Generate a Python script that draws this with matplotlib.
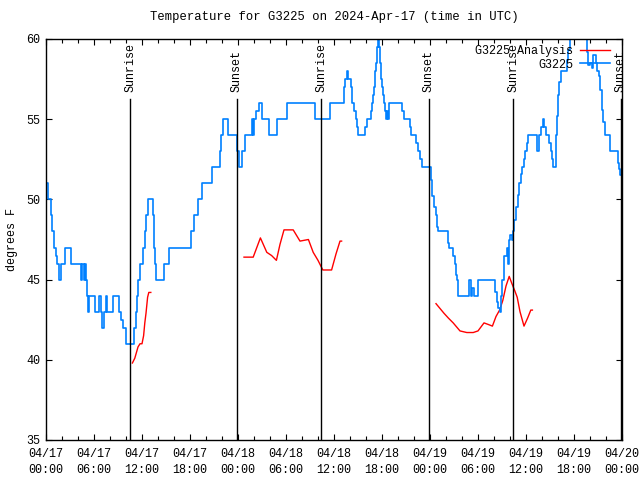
import matplotlib
matplotlib.use('Agg')
import matplotlib.pyplot as plt
from matplotlib.ticker import MultipleLocator

plt.rcParams['font.family'] = ['Liberation Mono', 'DejaVu Sans Mono']

# observed temperature: (hours since 04/17 00:00 UTC, deg F), step changes
obs = [(0.0, 51), (0.3, 50), (0.6, 49), (0.75, 48), (1.05, 47), (1.3, 46.5), (1.4, 46),
       (1.65, 45), (1.85, 46), (2.4, 47), (3.1, 46), (4.35, 45), (4.5, 46), (4.75, 45),
       (4.85, 46), (5.05, 45), (5.15, 44), (5.25, 43), (5.4, 44), (6.1, 43), (6.6, 44),
       (6.85, 43), (7.0, 42), (7.3, 43), (7.45, 44), (7.65, 43), (8.4, 44), (9.1, 43),
       (9.4, 42.5), (9.6, 42), (10.0, 41), (10.95, 42), (11.2, 43), (11.35, 44),
       (11.55, 45), (11.75, 46), (12.1, 47), (12.35, 48), (12.55, 49), (12.75, 50),
       (13.35, 49), (13.45, 47), (13.6, 46), (13.75, 45), (14.7, 46), (15.4, 47),
       (18.1, 48), (18.5, 49), (19.0, 50), (19.55, 51), (20.8, 52), (21.7, 53),
       (21.9, 54), (22.1, 55), (22.8, 54), (23.85, 53), (24.1, 52), (24.45, 53),
       (24.9, 54), (25.75, 55), (25.85, 54), (26.0, 55), (26.3, 55.5), (26.65, 56),
       (26.95, 55), (27.9, 54), (28.9, 55), (30.1, 56), (33.6, 55), (35.5, 56),
       (37.2, 57), (37.4, 57.5), (37.6, 58), (37.8, 57.5), (38.1, 57), (38.3, 56),
       (38.55, 55.5), (38.7, 55), (38.85, 54.5), (39.0, 54), (39.9, 54.5), (40.1, 55),
       (40.6, 55.5), (40.75, 56), (40.85, 56.5), (41.0, 57), (41.1, 58), (41.25, 58.5),
       (41.4, 59.5), (41.5, 60), (41.6, 59.5), (41.7, 58.5), (41.85, 57.5), (42.0, 57),
       (42.15, 56.5), (42.25, 56), (42.4, 55.5), (42.55, 55), (42.65, 55.5), (42.75, 55),
       (42.9, 56), (44.5, 55.5), (44.7, 55), (45.45, 54.5), (45.65, 54), (46.3, 53.5),
       (46.5, 53), (46.7, 52.5), (46.95, 52), (48.15, 51.2), (48.3, 50.2), (48.5, 49.5),
       (48.7, 49), (48.9, 48.3), (49.05, 48), (50.2, 47.3), (50.4, 47), (50.9, 46.5),
       (51.15, 46), (51.25, 45.3), (51.4, 45), (51.55, 44), (52.9, 45), (53.15, 44),
       (53.3, 44.5), (53.45, 44), (54.0, 45), (56.15, 44.2), (56.35, 43.6), (56.55, 43.2),
       (56.75, 43), (56.9, 44), (57.05, 45), (57.2, 45.8), (57.3, 46.5), (57.6, 47),
       (57.75, 46), (57.9, 47.5), (58.05, 47.8), (58.2, 47.5), (58.35, 48), (58.55, 48.7),
       (58.75, 49.5), (58.95, 50.3), (59.15, 51), (59.35, 51.6), (59.55, 52),
       (59.75, 52.5), (59.85, 53), (60.1, 53.5), (60.3, 54), (61.4, 53), (61.6, 54),
       (61.85, 54.5), (62.1, 55), (62.3, 54.5), (62.5, 54), (62.9, 53.5), (63.1, 53),
       (63.25, 52.5), (63.4, 52), (63.7, 54), (63.85, 55.2), (64.0, 56.5), (64.15, 57.3),
       (64.35, 58), (65.1, 58.7), (65.3, 59.3), (65.45, 60), (65.6, 61), (67.4, 60),
       (67.6, 59.2), (67.8, 58.4), (68.0, 58.5), (68.2, 58.2), (68.4, 59), (68.75, 58.5),
       (68.9, 58), (69.15, 57.7), (69.3, 56.8), (69.45, 55.6), (69.65, 54.8), (69.9, 54),
       (70.5, 53), (71.45, 52.3), (71.6, 51.9), (71.8, 51.5), (72.0, 51.5)]
obs_hours = [h for h, t in obs]
obs_temps = [t for h, t in obs]

# analysis series, three separate runs
ana1_hours = [10.8, 11.1, 11.33, 11.5, 11.75, 12.0, 12.2, 12.35, 12.5, 12.7, 12.85, 13.1]
ana1_temps = [39.8, 40.1, 40.5, 40.8, 41.0, 41.0, 41.5, 42.3, 42.9, 43.9, 44.2, 44.2]
ana2_hours = [24.75, 25.9, 26.8, 27.6, 28.2, 28.8, 29.25, 29.75, 30.9, 31.75, 32.8, 33.4,
              34.0, 34.6, 35.7, 36.25, 36.75, 36.95]
ana2_temps = [46.4, 46.4, 47.6, 46.7, 46.5, 46.2, 47.2, 48.1, 48.1, 47.4, 47.5, 46.7,
              46.2, 45.6, 45.6, 46.6, 47.4, 47.4]
ana3_hours = [48.75, 49.25, 49.75, 50.3, 50.9, 51.75, 52.6, 53.4, 54.0, 54.75, 55.3, 55.8,
              56.25, 56.7, 57.1, 57.5, 57.9, 58.2, 58.6, 58.9, 59.25, 59.75, 60.2, 60.6, 60.8]
ana3_temps = [43.5, 43.2, 42.9, 42.6, 42.3, 41.8, 41.7, 41.7, 41.8, 42.3, 42.2, 42.1,
              42.7, 43.1, 43.7, 44.6, 45.2, 44.8, 44.3, 43.9, 43.0, 42.1, 42.6, 43.1, 43.1]

sun_hours = [10.5, 23.83, 34.42, 47.83, 58.4, 71.87]
sun_labels = ['Sunrise', 'Sunset', 'Sunrise', 'Sunset', 'Sunrise', 'Sunset']

tick_hours = list(range(0, 73, 6))
tick_labels = ['04/17\n00:00', '04/17\n06:00', '04/17\n12:00', '04/17\n18:00',
               '04/18\n00:00', '04/18\n06:00', '04/18\n12:00', '04/18\n18:00',
               '04/19\n00:00', '04/19\n06:00', '04/19\n12:00', '04/19\n18:00',
               '04/20\n00:00']

blue = '#0080ff'
red = '#ff0000'

fig = plt.figure(figsize=(6.4, 4.8), dpi=100)
ax = fig.add_axes([46 / 640, 40 / 480, 576 / 640, 401 / 480])

ax.plot(ana1_hours, ana1_temps, color=red, lw=1, label='G3225 Analysis')
ax.plot(ana2_hours, ana2_temps, color=red, lw=1)
ax.plot(ana3_hours, ana3_temps, color=red, lw=1)
ax.plot(obs_hours, obs_temps, color=blue, lw=1.2, drawstyle='steps-post', label='G3225')

for h, lab in zip(sun_hours, sun_labels):
    ax.axvline(h, ymin=0, ymax=0.85, color='black', lw=1)
    ax.text(h, 0.868, lab, rotation=90, ha='center', va='bottom', fontsize=8.5,
            transform=ax.get_xaxis_transform())

ax.set_xlim(0, 72)
ax.set_ylim(35, 60)
ax.set_xticks(tick_hours)
ax.set_xticklabels(tick_labels, linespacing=1.45)
ax.xaxis.set_minor_locator(MultipleLocator(2))
ax.set_yticks([35, 40, 45, 50, 55, 60])
ax.tick_params(which='both', direction='in', top=True, right=True, labelsize=8.5, width=0.8)
ax.tick_params(which='major', length=4, pad=4)
ax.tick_params(axis='x', which='major', pad=6)
ax.tick_params(which='minor', length=3)
for s in ax.spines.values():
    s.set_linewidth(1)

ax.set_title('Temperature for G3225 on 2024-Apr-17 (time in UTC)', fontsize=8.8, pad=14)
ax.set_ylabel('degrees F', fontsize=8.5, labelpad=6)

ax.legend(loc='upper right', bbox_to_anchor=(0.979, 0.984), frameon=False, markerfirst=False,
          fontsize=8.5, handlelength=2.5, handletextpad=0.6, borderpad=0, borderaxespad=0,
          labelspacing=0.1)

plt.savefig('out.png', dpi=100)
